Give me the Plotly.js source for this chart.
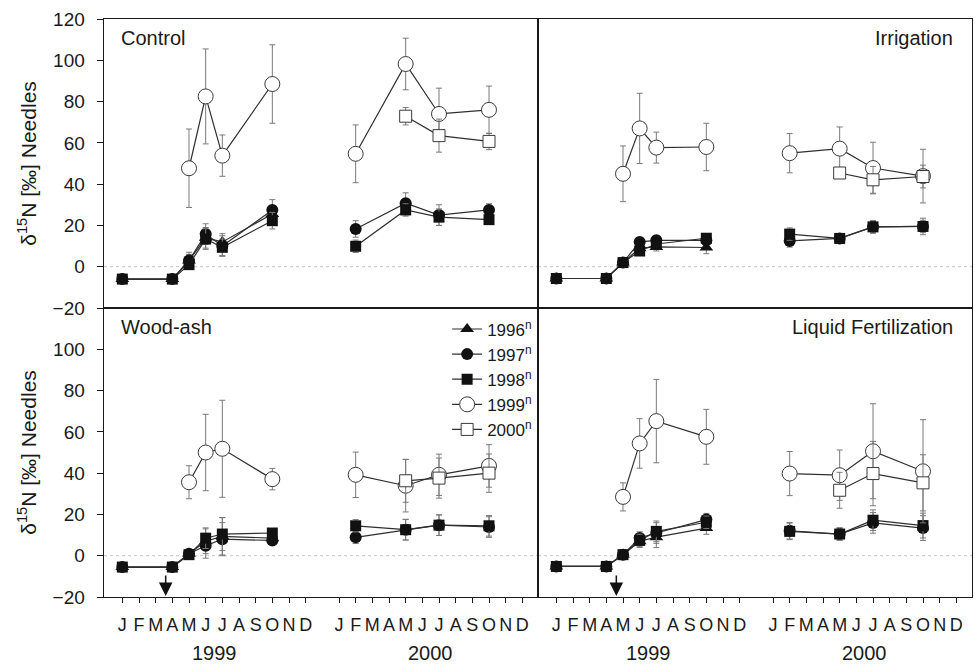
<!DOCTYPE html>
<html><head><meta charset="utf-8">
<script src="https://cdn.plot.ly/plotly-3.0.1.min.js"></script>
<style>html,body{margin:0;padding:0;background:#fff}#chart{width:975px;height:665px}</style>
</head><body><div id="chart"></div>
<script>
// ---------- data ----------
const panelNames = ["Control", "Irrigation", "Wood-ash", "Liquid Fertilization"];
const sampleYear  = [1999, 1999, 1999, 1999, 1999, 1999, 2000, 2000, 2000, 2000];
const sampleMonth = [1, 4, 5, 6, 7, 10, 2, 5, 7, 10];
const monthLetters = ["J", "F", "M", "A", "M", "J", "J", "A", "S", "O", "N", "D"];
const axisYears = [1999, 2000];
const seriesNames = ["1996", "1997", "1998", "1999", "2000"];
// month (in 1999) of treatment application, per panel
const applicationMonth = [null, null, 3.6, 4.6];

// Control
const control1996 = [-6, -6, 3, 14, 12, 25.5];
const control1996Err = [1, 1, 4, 5, 4, 4];
const control1997 = [-6, -6, 3, 15.8, 10, 27.5, 18.3, 30.8, 25, 27.5];
const control1997Err = [1, 1, 3, 5, 5, 5, 4, 5, 5, 3];
const control1998 = [-6, -6, 1, 13.4, 9.4, 22.3, 9.9, 27.5, 24, 22.8];
const control1998Err = [1, 1, 2, 5, 4, 4, 3, 3, 4, 2];
const control1999 = [null, null, 47.7, 82.5, 53.8, 88.5, 54.7, 98.2, 74, 76];
const control1999Err = [null, null, 19, 23, 10, 19, 14, 12.5, 12.5, 11.5];
const control2000 = [null, null, null, null, null, null, null, 72.9, 63.5, 60.7];
const control2000Err = [null, null, null, null, null, null, null, 4.2, 8, 4];

// Irrigation
const irrig1996 = [-5.7, -5.7, 2, 9, 9.6, 9.3];
const irrig1996Err = [1, 1, 2, 2, 2, 3];
const irrig1997 = [-5.7, -5.7, 2, 12, 12.8, 12.8, 12.5, 13.7, 19.3, 19.5];
const irrig1997Err = [1, 1, 2, 2, 2, 2, 3, 2, 3, 4];
const irrig1998 = [-5.7, -5.7, 2, 7.6, 11, 13.8, 15.8, 13.7, 19.3, 19.5];
const irrig1998Err = [1, 1, 2, 2, 2, 2, 3, 2, 3, 3];
const irrig1999 = [null, null, 45, 67, 57.7, 58, 55, 57.2, 47.8, 43.9];
const irrig1999Err = [null, null, 13.5, 17, 7.5, 11.5, 9.5, 10.5, 12.5, 13];
const irrig2000 = [null, null, null, null, null, null, null, 45.4, 42.1, 43.7];
const irrig2000Err = [null, null, null, null, null, null, null, 1, 6.5, 5.5];

// Wood-ash
const wood1996 = [-5.5, -5.5, 1, 7, 9.4, 8.5];
const wood1996Err = [1, 1, 2, 6, 9, 3];
const wood1997 = [-5.5, -5.5, 1, 4.8, 8, 7.4, 8.9, 12.6, 14.8, 13.9];
const wood1997Err = [1, 1, 2, 6, 8, 2, 3, 5, 5, 5];
const wood1998 = [-5.5, -5.5, 0.5, 8.5, 10.5, 11, 14.5, 12.6, 14.8, 14.5];
const wood1998Err = [1, 1, 2, 5, 8, 2, 3, 5, 5, 5];
const wood1999 = [null, null, 35.6, 50, 51.8, 37.1, 39.2, 33.9, 39.2, 43.5];
const wood1999Err = [null, null, 8, 18.5, 23.5, 5.2, 11, 12.7, 10, 10.3];
const wood2000 = [null, null, null, null, null, null, null, 36.3, 37.6, 40];
const wood2000Err = [null, null, null, null, null, null, null, 10.4, 9.7, 9.3];

// Liquid Fertilization
const liquid1996 = [-5.2, -5.2, 0.5, 7, 9, 13.4];
const liquid1996Err = [1, 1, 2, 3, 5, 3];
const liquid1997 = [-5.2, -5.2, 0.5, 8.6, 11, 17.5, 12.1, 10.5, 15.9, 13.4];
const liquid1997Err = [1, 1, 2, 3, 5, 3, 4, 3, 5, 6];
const liquid1998 = [-5.2, -5.2, 0.5, 7.4, 11.8, 16.2, 11.8, 10.5, 17.2, 14.6];
const liquid1998Err = [1, 1, 2, 3, 5, 3, 4, 3, 5, 6];
const liquid1999 = [null, null, 28.5, 54.4, 65.2, 57.6, 39.8, 39, 50.6, 40.9];
const liquid1999Err = [null, null, 6.8, 12, 20.2, 13.3, 10.7, 12.2, 23, 25];
const liquid2000 = [null, null, null, null, null, null, null, 31.7, 39.8, 35.3];
const liquid2000Err = [null, null, null, null, null, null, null, 8.7, 15.6, 13.6];

const panelValues = [
  [control1996, control1997, control1998, control1999, control2000],
  [irrig1996, irrig1997, irrig1998, irrig1999, irrig2000],
  [wood1996, wood1997, wood1998, wood1999, wood2000],
  [liquid1996, liquid1997, liquid1998, liquid1999, liquid2000]
];
const panelErrors = [
  [control1996Err, control1997Err, control1998Err, control1999Err, control2000Err],
  [irrig1996Err, irrig1997Err, irrig1998Err, irrig1999Err, irrig2000Err],
  [wood1996Err, wood1997Err, wood1998Err, wood1999Err, wood2000Err],
  [liquid1996Err, liquid1997Err, liquid1998Err, liquid1999Err, liquid2000Err]
];

// ---------- helpers ----------
// position on the month axis: 1999 months 1..12, gap of one month, 2000 months 14..25
function monthPos(year, month) { return (year - 1999) * 13 + month; }

function withGap(arr) {
  const out = [];
  for (let i = 0; i < sampleMonth.length; i++) {
    if (i > 0 && sampleYear[i] !== sampleYear[i - 1]) out.push(null);
    out.push(i < arr.length ? arr[i] : null);
  }
  return out;
}
const xPositions = withGap(sampleMonth.map((m, i) => monthPos(sampleYear[i], m)));

const FONT = "Liberation Sans, Arial, Helvetica, sans-serif";
const INK = "#1a1a1a";
const LINE = "#2e2e2e";
const styles = [
  {symbol: "triangle-up", size: 12, color: "#111", lineColor: "#111", lineW: 0},
  {symbol: "circle", size: 12, color: "#111", lineColor: "#111", lineW: 0},
  {symbol: "square", size: 11, color: "#111", lineColor: "#111", lineW: 0},
  {symbol: "circle", size: 15, color: "#ffffff", lineColor: "#3a3a3a", lineW: 1},
  {symbol: "square", size: 12, color: "#ffffff", lineColor: "#3a3a3a", lineW: 1}
];

const traces = [];
for (let p = 0; p < 4; p++) {
  const ax = p === 0 ? "" : String(p + 1);
  for (let s = 0; s < seriesNames.length; s++) {
    const st = styles[s];
    traces.push({
      type: "scatter",
      mode: "lines+markers",
      name: seriesNames[s] + "<sup>n</sup>",
      legendgroup: seriesNames[s],
      showlegend: p === 0,
      x: xPositions,
      y: withGap(panelValues[p][s]),
      xaxis: "x" + ax,
      yaxis: "y" + ax,
      connectgaps: false,
      cliponaxis: false,
      line: {color: LINE, width: 1.2},
      marker: {symbol: st.symbol, size: st.size, color: st.color,
               line: {color: st.lineColor, width: st.lineW}},
      error_y: {type: "data", array: withGap(panelErrors[p][s]), visible: true,
                color: "#7a7a7a", thickness: 1, width: 3}
    });
  }
}

// ---------- axes ----------
const tickVals = [], tickText = [];
axisYears.forEach(y => monthLetters.forEach((l, i) => { tickVals.push(monthPos(y, i + 1)); tickText.push(l); }));
const yTicksTop = [-20, 0, 20, 40, 60, 80, 100, 120];
const yTicksBottom = [-20, 0, 20, 40, 60, 80, 100];

const xRange = [-0.1, 25.94];
function xAxis(domain, bottom, anchor) {
  return {
    domain: domain, range: xRange, anchor: anchor,
    showgrid: false, zeroline: false, showline: true, mirror: true,
    linecolor: INK, linewidth: 1.4,
    tickmode: "array", tickvals: tickVals, ticktext: tickText,
    ticks: bottom ? "outside" : "", ticklen: 5, tickwidth: 1, tickcolor: INK,
    showticklabels: bottom, ticklabelstandoff: 6,
    tickfont: {family: FONT, size: 18, color: INK}
  };
}
function yAxis(domain, left, anchor, ticks, title) {
  const a = {
    domain: domain, range: [-20, 120], anchor: anchor,
    showgrid: false, zeroline: false, showline: true, mirror: true,
    linecolor: INK, linewidth: 1.4,
    tickmode: "array", tickvals: ticks,
    ticks: left ? "outside" : "", ticklen: 6, tickwidth: 1, tickcolor: INK,
    showticklabels: left, ticklabelstandoff: 8,
    tickfont: {family: FONT, size: 19, color: INK}
  };
  if (left) a.title = {text: title, standoff: 10, font: {family: FONT, size: 21, color: INK}};
  return a;
}
const yTitle = "\u03b4<sup>15</sup>N [\u2030] Needles";

const layout = {
  width: 975, height: 665,
  margin: {l: 104, r: 3, t: 19, b: 68},
  paper_bgcolor: "#fff", plot_bgcolor: "#fff",
  font: {family: FONT, color: INK},
  showlegend: true,
  legend: {
    x: 0.499, xanchor: "right", y: 0.494, yanchor: "top",
    bgcolor: "rgba(0,0,0,0)", borderwidth: 0,
    font: {family: FONT, size: 17, color: INK},
    tracegroupgap: 0, itemsizing: "trace"
  },
  xaxis:  xAxis([0, 0.5], false, "y"),
  yaxis:  yAxis([0.5, 1], true, "x", yTicksTop, yTitle),
  xaxis2: xAxis([0.5, 1], false, "y2"),
  yaxis2: yAxis([0.5, 1], false, "x2", yTicksTop, ""),
  xaxis3: xAxis([0, 0.5], true, "y3"),
  yaxis3: yAxis([0, 0.5], true, "x3", yTicksBottom, yTitle),
  xaxis4: xAxis([0.5, 1], true, "y4"),
  yaxis4: yAxis([0, 0.5], false, "x4", yTicksBottom, ""),
  shapes: [],
  annotations: []
};

// dotted zero lines
for (let p = 0; p < 4; p++) {
  const ax = p === 0 ? "" : String(p + 1);
  layout.shapes.push({type: "line", xref: "x" + ax + " domain", x0: 0, x1: 1,
    yref: "y" + ax, y0: 0, y1: 0, line: {color: "#c4c4c4", width: 1, dash: "dot"}, layer: "below"});
}

// panel labels
const labelPos = [
  {xref: "x domain", yref: "y domain", x: 0.034, xanchor: "left"},
  {xref: "x2 domain", yref: "y2 domain", x: 0.96, xanchor: "right"},
  {xref: "x3 domain", yref: "y3 domain", x: 0.034, xanchor: "left"},
  {xref: "x4 domain", yref: "y4 domain", x: 0.96, xanchor: "right"}
];
panelNames.forEach((n, p) => {
  layout.annotations.push(Object.assign({text: n, y: 0.935, yanchor: "middle", showarrow: false,
    font: {family: FONT, size: 20, color: INK}}, labelPos[p]));
});

// year labels under the bottom axes
["x3", "x4"].forEach(xr => {
  axisYears.forEach(y => {
    layout.annotations.push({text: String(y), xref: xr, yref: "paper",
      x: (monthPos(y, 1) + monthPos(y, 12)) / 2, y: -0.1176, yanchor: "bottom", borderpad: 0,
      showarrow: false, font: {family: FONT, size: 20, color: INK}});
  });
});

// application arrows
applicationMonth.forEach((m, p) => {
  if (m === null) return;
  const ax = String(p + 1);
  layout.annotations.push({text: "", xref: "x" + ax, yref: "y" + ax,
    x: monthPos(1999, m), y: -20, axref: "x" + ax, ayref: "y" + ax,
    ax: monthPos(1999, m), ay: -8.8, showarrow: true, arrowhead: 2,
    arrowsize: 1.8, arrowwidth: 1.5, arrowcolor: "#111", standoff: 1});
});

Plotly.newPlot("chart", traces, layout, {displayModeBar: false, staticPlot: true});
</script>
</body></html>
